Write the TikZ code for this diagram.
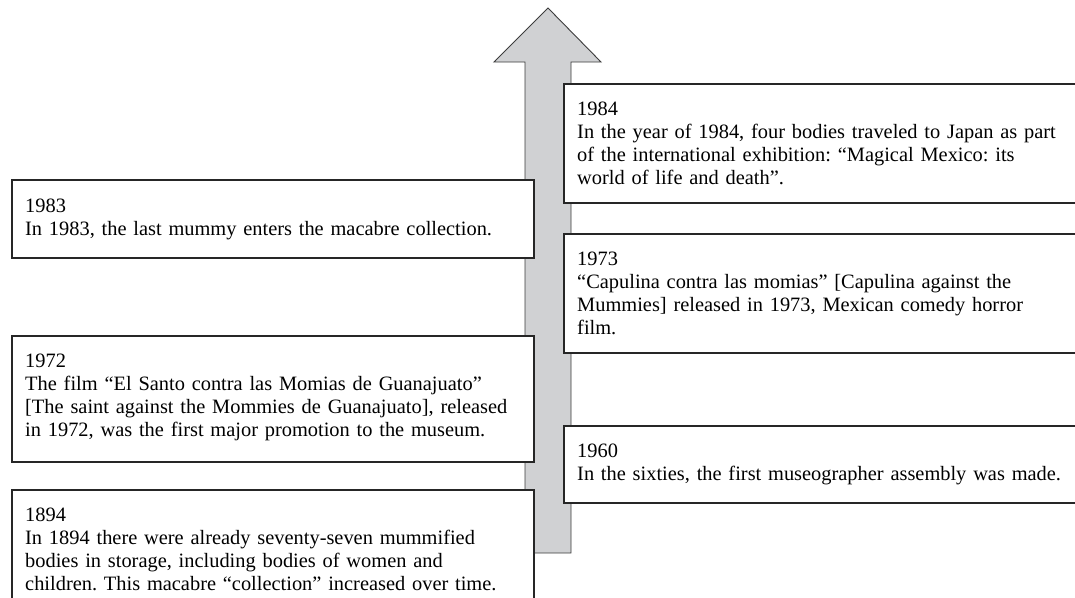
\documentclass[tikz,border=0pt]{standalone}
\usepackage{fontspec}
\setmainfont{Liberation Serif}
\usetikzlibrary{calc}
\definecolor{arrowgray}{RGB}{208,209,211}
\definecolor{edgegray}{RGB}{60,60,60}
\tikzset{
  evbox/.style={draw=black!85, line width=1.6pt, fill=white, inner sep=0pt, anchor=north west},
  evtext/.style={anchor=base west, inner sep=0pt, align=left, text width=510pt,
    font=\fontsize{20.4pt}{23.3pt}\selectfont\frenchspacing},
  timearrow/.style={fill=arrowgray, draw=edgegray, line width=0.9pt, line join=miter}
}
\begin{document}
\begin{tikzpicture}[x=1pt,y=-1pt]
\useasboundingbox (0,0) rectangle (1075,597);
\clip (0,0) rectangle (1075,597);
% timeline arrow
\draw[timearrow] (525,553) -- (525,62) -- (494,62) -- (548,8) -- (601,62) -- (571,62) -- (571,553) -- cycle;
% left boxes
\node[evbox, minimum width=522pt, minimum height=78pt] (b1983) at (11,179) {};
\node[evbox, minimum width=522pt, minimum height=126pt] (b1972) at (11,335) {};
\node[evbox, minimum width=522pt, minimum height=130pt] (b1894) at (11,489) {};
% right boxes
\node[evbox, minimum width=530pt, minimum height=119pt] (b1984) at (563,83) {};
\node[evbox, minimum width=530pt, minimum height=119pt] (b1973) at (563,233) {};
\node[evbox, minimum width=530pt, minimum height=77pt] (b1960) at (563,425) {};
% texts
\node[evtext] (t1983) at ($(b1983.north west)+(14,33)$) {1983\\In 1983, the last mummy enters the macabre collection.};
\node[evtext] (t1972) at ($(b1972.north west)+(14,32)$) {1972\\The film “El Santo contra las Momias de Guanajuato”\\{}[The saint against the Mommies de Guanajuato], released\\in 1972, was the first major promotion to the museum.};
\node[evtext] (t1894) at ($(b1894.north west)+(14,32)$) {1894\\In 1894 there were already seventy-seven mummified\\bodies in storage, including bodies of women and\\children. This macabre “collection” increased over time.};
\node[evtext] (t1984) at ($(b1984.north west)+(14,32)$) {1984\\In the year of 1984, four bodies traveled to Japan as part\\of the international exhibition: “Magical Mexico: its\\world of life and death”.};
\node[evtext] (t1973) at ($(b1973.north west)+(14,32)$) {1973\\“Capulina contra las momias” [Capulina against the\\Mummies] released in 1973, Mexican comedy horror\\film.};
\node[evtext] (t1960) at ($(b1960.north west)+(14,32)$) {1960\\In the sixties, the first museographer assembly was made.};
\end{tikzpicture}
\end{document}
